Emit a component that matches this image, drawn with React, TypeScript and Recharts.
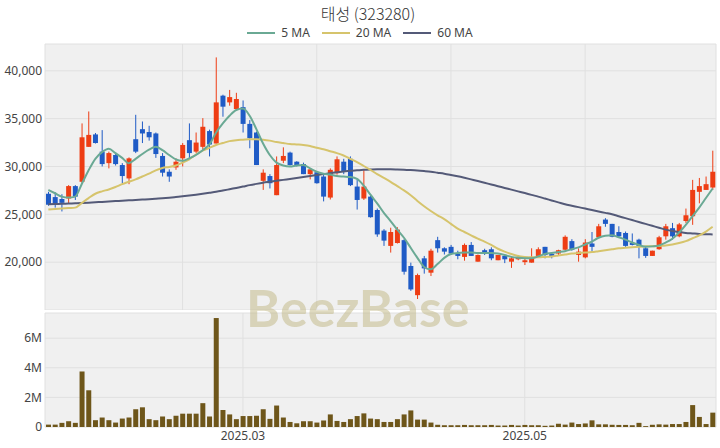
import React from 'react';
import { ComposedChart, Bar, Line, XAxis, YAxis, CartesianGrid } from 'recharts';

// trading days, 2025-01-15 .. 2025-06-17
const dates = [
  '2025-01-15', '2025-01-16', '2025-01-17', '2025-01-20', '2025-01-21', '2025-01-22', '2025-01-23', '2025-01-24', '2025-01-31',
  '2025-02-03', '2025-02-04', '2025-02-05', '2025-02-06', '2025-02-07', '2025-02-10', '2025-02-11', '2025-02-12', '2025-02-13', '2025-02-14',
  '2025-02-17', '2025-02-18', '2025-02-19', '2025-02-20', '2025-02-21', '2025-02-24', '2025-02-25', '2025-02-26', '2025-02-27', '2025-02-28',
  '2025-03-04', '2025-03-05', '2025-03-06', '2025-03-07', '2025-03-10', '2025-03-11', '2025-03-12', '2025-03-13', '2025-03-14', '2025-03-17',
  '2025-03-18', '2025-03-19', '2025-03-20', '2025-03-21', '2025-03-24', '2025-03-25', '2025-03-26', '2025-03-27', '2025-03-28', '2025-03-31',
  '2025-04-01', '2025-04-02', '2025-04-03', '2025-04-04', '2025-04-07', '2025-04-08', '2025-04-09', '2025-04-10', '2025-04-11', '2025-04-14',
  '2025-04-15', '2025-04-16', '2025-04-17', '2025-04-18', '2025-04-21', '2025-04-22', '2025-04-23', '2025-04-24', '2025-04-25', '2025-04-28',
  '2025-04-29', '2025-04-30', '2025-05-02', '2025-05-07', '2025-05-08', '2025-05-09', '2025-05-12', '2025-05-13', '2025-05-14', '2025-05-15',
  '2025-05-16', '2025-05-19', '2025-05-20', '2025-05-21', '2025-05-22', '2025-05-23', '2025-05-26', '2025-05-27', '2025-05-28', '2025-05-29',
  '2025-05-30', '2025-06-02', '2025-06-04', '2025-06-05', '2025-06-09', '2025-06-10', '2025-06-11', '2025-06-12', '2025-06-13', '2025-06-16',
  '2025-06-17',
];

const opens = [
  27150, 26800, 26600, 26650, 27950, 28400, 32050, 33350, 31550, 30350,
  31200, 30150, 28750, 32850, 33900, 33600, 33450, 31100, 29450, 29900,
  30850, 32750, 31550, 32050, 33700, 32400, 37400, 36700, 36000, 36200,
  34450, 33550, 28500, 29000, 27000, 30600, 31450, 30500, 30250, 29200,
  29400, 28950, 26750, 29300, 30500, 30800, 27900, 26650, 26850, 25450,
  23300, 21700, 22000, 22300, 19600, 16550, 20400, 18900, 22300, 21450,
  21600, 20900, 20550, 21800, 20050, 21250, 21350, 20200, 20650, 20050,
  20300, 20000, 19950, 20650, 21600, 20850, 20900, 21300, 22200, 20750,
  20500, 21950, 22600, 24450, 24000, 23150, 23050, 22000, 22350, 21450,
  20650, 21350, 22700, 23550, 22700, 24300, 24800, 27350, 27550, 27800,
];

const highs = [
  27350, 27300, 27100, 28050, 28050, 34500, 35750, 33500, 33800, 31550,
  31300, 30350, 30950, 35400, 34700, 34250, 33550, 31400, 29700, 30850,
  32450, 34500, 33550, 35050, 33850, 41400, 37500, 38000, 37700, 36900,
  34850, 33650, 29700, 29200, 31050, 32000, 31550, 30550, 30400, 29800,
  29500, 29150, 29800, 31050, 30800, 31050, 28650, 29650, 27050, 25600,
  23450, 23600, 23650, 22400, 19950, 18800, 20650, 21400, 22650, 21550,
  21800, 21200, 21950, 22100, 20800, 21400, 21550, 20750, 20700, 20550,
  20750, 20350, 21450, 21550, 21600, 20950, 21300, 22800, 22400, 21450,
  22400, 23150, 24000, 24600, 24000, 23750, 23200, 23000, 22450, 21600,
  21200, 22750, 24000, 24100, 24100, 25600, 28600, 28800, 28950, 31650,
];

const lows = [
  25900, 25700, 25300, 26100, 26500, 28200, 32050, 32400, 30000, 29800,
  30100, 28250, 28150, 31400, 32450, 32700, 30900, 28950, 28400, 29650,
  30000, 30850, 31400, 31750, 31050, 32400, 35200, 36350, 35900, 33550,
  31900, 30150, 27550, 27700, 27000, 30350, 30100, 30000, 29200, 28650,
  28200, 26350, 26550, 29150, 29200, 27950, 25500, 26500, 24650, 22650,
  21700, 21000, 21950, 18700, 17000, 16150, 18800, 18550, 21000, 20800,
  20750, 20300, 20150, 20650, 20050, 20750, 20200, 20200, 19900, 19400,
  20200, 19700, 19950, 20550, 20400, 20400, 20700, 21200, 21200, 20050,
  20400, 21100, 22500, 23700, 22600, 22600, 21600, 21750, 20400, 20450,
  20650, 21300, 22350, 22350, 22600, 24100, 23900, 26150, 27550, 27550,
];

const closes = [
  26000, 26100, 26200, 27950, 26850, 33050, 33300, 32450, 30250, 31400,
  30250, 29000, 30850, 31550, 33450, 33050, 31300, 29350, 28950, 30500,
  32250, 31400, 32500, 34150, 32300, 36700, 36250, 37250, 37050, 34450,
  32950, 30150, 29350, 28250, 30150, 31100, 30150, 30050, 29200, 29700,
  28250, 26850, 29650, 30750, 29450, 28050, 26500, 27900, 24700, 22900,
  22250, 23150, 23400, 19000, 17150, 18650, 19350, 21200, 21450, 21100,
  20900, 20650, 21800, 20650, 20750, 20900, 20400, 20750, 20300, 20400,
  20500, 20200, 20550, 21350, 20750, 20650, 21250, 22650, 21300, 21100,
  22050, 21600, 23750, 24000, 22650, 22700, 21700, 21800, 21600, 20650,
  21200, 22600, 23750, 22700, 23950, 24900, 27550, 27950, 28150, 29450,
];

const ma5 = [
  27540, 27200, 26850, 26750, 26850, 28200, 29600, 30800, 31500, 31850,
  31400, 30900, 30350, 30800, 31300, 31750, 32050, 31700, 31200, 30750,
  30600, 30850, 31200, 31700, 32300, 33550, 34500, 35300, 35900, 36050,
  35300, 33900, 32400, 31200, 30400, 30100, 30000, 30100, 30150, 29800,
  29450, 29250, 29150, 29000, 28950, 28900, 28700, 28000, 27050, 26150,
  25150, 24300, 23400, 22550, 21500, 20450, 19500, 19250, 19800, 20450,
  20850, 20950, 21000, 21000, 20950, 20950, 20950, 20900, 20750, 20550,
  20450, 20400, 20400, 20600, 20850, 20950, 21050, 21150, 21350, 21550,
  21850, 22150, 22550, 22750, 22800, 22600, 22350, 22050, 21800, 21600,
  21650, 21750, 22050, 22450, 23100, 23900, 24800, 25700, 26700, 27700,
];

const ma20 = [
  25500, 25550, 25600, 25650, 25700, 26200, 26700, 27150, 27400, 27600,
  27850, 28150, 28400, 28650, 28950, 29250, 29600, 29850, 29950, 30100,
  30400, 30750, 31250, 31650, 31950, 32250, 32450, 32650, 32750, 32800,
  32850, 32850, 32800, 32700, 32550, 32450, 32350, 32300, 32250, 32150,
  31950, 31800, 31600, 31400, 31150, 30800, 30450, 30050, 29650, 29200,
  28800, 28400, 27950, 27500, 27000, 26400, 25850, 25350, 24900, 24500,
  24000, 23500, 23150, 22800, 22450, 22150, 21800, 21400, 21100, 20850,
  20650, 20550, 20500, 20500, 20550, 20600, 20700, 20800, 20900, 20950,
  21000, 21050, 21150, 21250, 21350, 21450, 21500, 21550, 21600, 21650,
  21650, 21700, 21750, 21850, 22000, 22200, 22500, 22800, 23200, 23700,
];

const ma60 = [
  26050, 26080, 26100, 26130, 26150, 26180, 26220, 26260, 26300, 26340,
  26380, 26420, 26460, 26500, 26540, 26580, 26630, 26680, 26740, 26810,
  26880, 26960, 27050, 27150, 27250, 27350, 27480, 27620, 27760, 27900,
  28050, 28180, 28300, 28400, 28500, 28600, 28700, 28800, 28900, 29000,
  29100, 29200, 29300, 29400, 29480, 29550, 29600, 29650, 29680, 29700,
  29700, 29700, 29680, 29650, 29620, 29580, 29520, 29450, 29350, 29250,
  29120, 28980, 28820, 28650, 28480, 28300, 28120, 27940, 27760, 27580,
  27400, 27220, 27030, 26850, 26650, 26450, 26250, 26050, 25900, 25750,
  25600, 25450, 25300, 25150, 25000, 24800, 24600, 24400, 24200, 24000,
  23800, 23600, 23400, 23250, 23150, 23050, 23000, 22950, 22920, 22900,
];

const volumes = [
  160000, 160000, 280000, 390000, 280000, 3750000, 2480000, 460000, 640000, 460000,
  300000, 570000, 640000, 1200000, 1330000, 530000, 460000, 710000, 530000, 760000,
  900000, 900000, 900000, 1610000, 710000, 7360000, 1150000, 850000, 530000, 740000,
  740000, 760000, 1200000, 550000, 1450000, 640000, 340000, 250000, 390000, 390000,
  300000, 440000, 850000, 410000, 340000, 530000, 740000, 920000, 570000, 530000,
  340000, 340000, 530000, 850000, 1120000, 500000, 500000, 300000, 150000, 120000,
  120000, 120000, 140000, 120000, 120000, 120000, 140000, 100000, 100000, 140000,
  100000, 140000, 120000, 120000, 80000, 100000, 220000, 160000, 300000, 200000,
  240000, 450000, 180000, 180000, 150000, 140000, 140000, 120000, 280000, 60000,
  150000, 180000, 160000, 200000, 200000, 340000, 1480000, 680000, 200000, 970000,
];

const priceTicks = [20000, 25000, 30000, 35000, 40000];
const volumeTicks = [0, 2000000, 4000000, 6000000];
const monthTicks = ['2025-03-04', '2025-05-02'];
const priceGridTicks = [dates[20], dates[40], dates[60], dates[80]];

const UP = '#ee3d14';
const DOWN = '#1f5bc6';
const VOLUME = '#6e561a';
const MA_COLORS = { ma5: '#6aa994', ma20: '#d6c46c', ma60: '#545a78' };
const FONT = '"Noto Sans", "Noto Sans CJK KR", sans-serif';
const tickStyle = { fontSize: 12, fill: '#444', fontFamily: FONT };

const rows = dates.map((date, i) => ({
  date,
  range: [lows[i], highs[i]],
  open: opens[i],
  high: highs[i],
  low: lows[i],
  close: closes[i],
  ma5: ma5[i],
  ma20: ma20[i],
  ma60: ma60[i],
  volume: volumes[i],
}));

// one candle: the bar's box spans low..high, body placed inside it
const Candle = (props: any) => {
  const { x, y, width, height, payload } = props;
  const { open, close, high, low } = payload;
  const color = close >= open ? UP : DOWN;
  const top = Math.min(y, y + height);
  const h = Math.abs(height);
  const span = high - low || 1;
  const toY = (v: number) => top + ((high - v) / span) * h;
  const bodyTop = toY(Math.max(open, close));
  const bodyBottom = toY(Math.min(open, close));
  const cx = x + width / 2;
  return (
    <g>
      <line x1={cx} x2={cx} y1={top} y2={top + h} stroke={color} strokeWidth={1} />
      <rect x={x} y={bodyTop} width={width} height={Math.max(bodyBottom - bodyTop, 1)} fill={color} />
    </g>
  );
};

// price panel x axis only feeds the grid, its labels stay empty
const EmptyTick = () => <g />;

const formatPrice = (v: number) => v.toLocaleString('en-US');
const formatVolume = (v: number) => (v === 0 ? '0' : `${v / 1000000}M`);
const formatMonth = (d: string) => d.slice(0, 7).replace('-', '.');

const legendItems = [
  { label: '5 MA', color: MA_COLORS.ma5 },
  { label: '20 MA', color: MA_COLORS.ma20 },
  { label: '60 MA', color: MA_COLORS.ma60 },
];

export default function App() {
  return (
    <div style={{ position: 'absolute', left: 0, top: 0, width: 720, height: 448, background: '#fff', fontFamily: FONT }}>
      <div style={{ position: 'absolute', top: 5, left: 0, width: 736, height: 17, lineHeight: '17px', textAlign: 'center', fontSize: 16, color: '#333', fontFamily: '"Noto Sans CJK KR", sans-serif', fontWeight: 300 }}>
        태성 (323280)
      </div>
      <div style={{ position: 'absolute', top: 26, left: 0, width: 720, height: 13, lineHeight: '13px', display: 'flex', justifyContent: 'center', gap: 12, fontSize: 12, color: '#444' }}>
        {legendItems.map((item) => (
          <div key={item.label} style={{ display: 'flex', alignItems: 'center', gap: 6 }}>
            <span style={{ display: 'inline-block', width: 28, height: 2, background: item.color }} />
            <span>{item.label}</span>
          </div>
        ))}
      </div>

      <div style={{ position: 'absolute', left: 0, top: 0 }}>
        <ComposedChart width={720} height={310} data={rows} margin={{ top: 44, right: 4, bottom: 0, left: 0 }}>
          <CartesianGrid fill="#f0f0f0" stroke="#e0e0e0" />
          <XAxis dataKey="date" ticks={priceGridTicks} interval={0} tick={EmptyTick} axisLine={false} tickLine={false} height={0} />
          <YAxis
            domain={[15000, 42800]}
            ticks={priceTicks}
            tickFormatter={formatPrice}
            width={45}
            axisLine={false}
            tickLine={false}
            tickSize={0}
            tickMargin={3}
            tick={tickStyle}
          />
          <Bar dataKey="range" barSize={5} shape={Candle} isAnimationActive={false} />
          <Line type="monotone" dataKey="ma60" stroke={MA_COLORS.ma60} strokeWidth={2} dot={false} isAnimationActive={false} />
          <Line type="monotone" dataKey="ma20" stroke={MA_COLORS.ma20} strokeWidth={2} dot={false} isAnimationActive={false} />
          <Line type="monotone" dataKey="ma5" stroke={MA_COLORS.ma5} strokeWidth={2} dot={false} isAnimationActive={false} />
        </ComposedChart>
      </div>

      <div style={{ position: 'absolute', left: 0, top: 312 }}>
        <ComposedChart width={720} height={136} data={rows} margin={{ top: 1, right: 4, bottom: 0, left: 0 }}>
          <CartesianGrid fill="#f0f0f0" stroke="#e0e0e0" />
          <XAxis
            dataKey="date"
            ticks={monthTicks}
            interval={0}
            tickFormatter={formatMonth}
            height={21}
            axisLine={false}
            tickLine={false}
            tickSize={0}
            tickMargin={4}
            tick={tickStyle}
          />
          <YAxis
            domain={[0, 7700000]}
            ticks={volumeTicks}
            tickFormatter={formatVolume}
            width={45}
            axisLine={false}
            tickLine={false}
            tickSize={0}
            tickMargin={3}
            tick={tickStyle}
          />
          <Bar dataKey="volume" barSize={5} fill={VOLUME} isAnimationActive={false} />
        </ComposedChart>
      </div>

      <svg width={720} height={448} style={{ position: 'absolute', left: 0, top: 0, pointerEvents: 'none' }}>
        <text x={246} y={327} fontFamily="Lato, sans-serif" fontWeight={700} fontSize={52} fill="rgb(192,182,130)" fillOpacity={0.5}>
          BeezBase
        </text>
      </svg>
    </div>
  );
}
